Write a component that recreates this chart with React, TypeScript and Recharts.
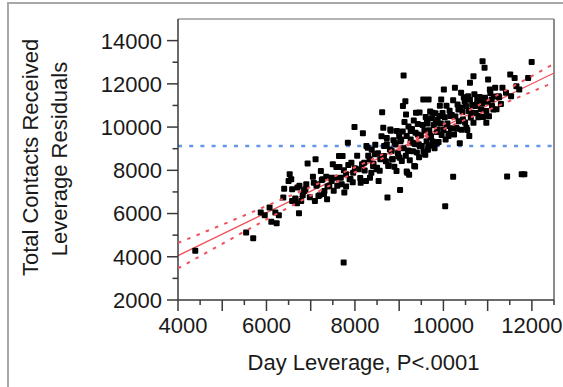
import {
  ReferenceLine,
  Scatter,
  ScatterChart,
  XAxis,
  YAxis,
} from "recharts";

// Leverage plot: Day Leverage (x) vs Total Contacts Received leverage residuals (y)
const observations: [number, number][] = [
  [4390, 4280], [5540, 5120], [5700, 4860], [5870, 6050], [5960, 5920], [6070, 6280],
  [6110, 5615], [6230, 5555], [6200, 6050], [6280, 5920], [6380, 6740], [6400, 7150],
  [6525, 7815], [6560, 7585], [6580, 7120], [6500, 7510], [6580, 6585], [6690, 6480],
  [6735, 6015], [6745, 7280], [6785, 6585], [6850, 7045], [6880, 7120], [6930, 8310],
  [7110, 8510], [7095, 6585], [7070, 7430], [7130, 7280], [7175, 6815], [7230, 7970],
  [7270, 7585], [7310, 7045], [7370, 6660], [7420, 7280], [7475, 7510], [7500, 8280],
  [7555, 7660], [7600, 7280], [7640, 8660], [7720, 8660], [7745, 3740], [7760, 6970],
  [7800, 7815], [7840, 9280], [7880, 7585], [7960, 7890], [7990, 10000], [8085, 8045],
  [8130, 7430], [8180, 9710], [8210, 8350], [8250, 7510], [8290, 9045], [8330, 8510],
  [8370, 7890], [8410, 8200], [8450, 8740], [8490, 8045], [8535, 7510], [8575, 8510],
  [8615, 10690], [8640, 9970], [8655, 8660], [8720, 9200], [8735, 6740], [8755, 8200],
  [8800, 9890], [8830, 8890], [8855, 8510], [8900, 9280], [8940, 7970], [8980, 8660],
  [9020, 7090], [9045, 9430], [9085, 10970], [9100, 12385], [9140, 11200], [9155, 10585],
  [9180, 7890], [9220, 8890], [9260, 9815], [9300, 9280], [9340, 8200], [9380, 10660],
  [9420, 9660], [9465, 9120], [9545, 11275], [9585, 8740], [9625, 10355], [9665, 11275],
  [9710, 9585], [9750, 10660], [9790, 9280], [9830, 10200], [9870, 9890], [9910, 10510],
  [9950, 11275], [10010, 11740], [10040, 6340], [10075, 10045], [10115, 9585], [10155, 10510],
  [10220, 7700], [10260, 11815], [10290, 9970], [10340, 10815], [10370, 9250], [10400, 11585],
  [10440, 10355], [10480, 11200], [10520, 9970], [10560, 11430], [10585, 9585], [10600, 12045],
  [10640, 10660], [10680, 12355], [10720, 10970], [10765, 11275], [10805, 10510], [10845, 11120],
  [10885, 13045], [10930, 12740], [10970, 10200], [11010, 12200], [11050, 11740], [11090, 11275],
  [11130, 10815], [11170, 11815], [11250, 11430], [11335, 11815], [11415, 11585], [11440, 7710],
  [11510, 12430], [11530, 11430], [11610, 12275], [11650, 11890], [11715, 11740], [11770, 7815],
  [11830, 7815], [11915, 12275], [11995, 13015], [9170, 7950], [9225, 7800], [9360, 8180],
  [9590, 8720], [9450, 8600], [9650, 8950], [9850, 9250], [9720, 9150],
  [8050, 8670], [8120, 7640], [8160, 8280], [8220, 7990], [8260, 9130], [8300, 8670],
  [8340, 7660], [8380, 8950], [8420, 8290], [8460, 9180], [8500, 8120], [8520, 8790],
  [8560, 7980], [8600, 9570], [8620, 8590], [8660, 9130], [8700, 8420], [8720, 9490],
  [8760, 8230], [8790, 8960], [8810, 9830], [8840, 8510], [8870, 9390], [8890, 8160],
  [8920, 9190], [8950, 9820], [8970, 8790], [9000, 9570], [9010, 8580], [9030, 9350],
  [9060, 8430], [9080, 9800], [9100, 9020], [9120, 10240], [9150, 8670], [9170, 9590],
  [9200, 8920], [9210, 10030], [9240, 8460], [9260, 9430], [9290, 9910], [9310, 8880],
  [9330, 10300], [9350, 9220], [9370, 9740], [9400, 8820], [9420, 10140], [9440, 9210],
  [9460, 10680], [9490, 9610], [9510, 9130], [9530, 10100], [9550, 8870], [9570, 9840],
  [9600, 10470], [9620, 9340], [9640, 10160], [9660, 9130], [9680, 9850], [9700, 10720],
  [9720, 9540], [9740, 10410], [9760, 9330], [9780, 10100], [9800, 9020], [9820, 10640],
  [9850, 9770], [9870, 10340], [9890, 9310], [9920, 10990], [9940, 10160], [9960, 9630],
  [9980, 10650], [10000, 9870], [10030, 10450], [10050, 9420], [10070, 10990], [10090, 10160],
  [10120, 9690], [10140, 10760], [10170, 9940], [10190, 10560], [10220, 11240], [10240, 9660],
  [10270, 10490], [10300, 9920], [10320, 11040], [10350, 10270], [10380, 10900], [10410, 9880],
  [10430, 10700], [10460, 11380], [10490, 10210], [10510, 10980], [10540, 9860], [10570, 10740],
  [10600, 11270], [10620, 10440], [10650, 11020], [10680, 10200], [10700, 11520], [10730, 10650],
  [10760, 11080], [10790, 10460], [10820, 11390], [10850, 10820], [10880, 11100], [10900, 10470],
  [10940, 11360], [10970, 10740], [11000, 11170], [11030, 10500], [11060, 11580], [11100, 10970],
  [11140, 11410], [11200, 10820], [11260, 11380], [11300, 11070],
  [7650, 8150], [7700, 7350], [7750, 8000], [7800, 7250], [7850, 8250], [7900, 7600],
  [7920, 8350], [7950, 7450], [8000, 8100], [7680, 7650], [7580, 8150], [7520, 7050],
  [7450, 7650], [7380, 7250], [7350, 7700], [7300, 6900], [7250, 7550], [7200, 6850],
  [7150, 7350], [7050, 7700], [6980, 6750], [6900, 7350], [6820, 6850], [6700, 7200],
  [6650, 6700],
];

// fitted line and its confidence curves
const fitX = [4000, 12500];
const fitY = [4050, 12500];
const bandX = [4000, 5000, 6000, 7000, 8000, 9100, 10000, 11000, 12000, 12500];
const bandUpper = [4640, 5480, 6350, 7230, 8140, 9190, 10125, 11240, 12360, 12930];
const bandLower = [3460, 4600, 5730, 6830, 7910, 9050, 9905, 10780, 11640, 12070];
const meanY = 9130;

const xTicks = [4000, 4500, 5000, 5500, 6000, 6500, 7000, 7500, 8000, 8500, 9000, 9500, 10000, 10500, 11000, 11500, 12000, 12500];
const yTicks = [2000, 3000, 4000, 5000, 6000, 7000, 8000, 9000, 10000, 11000, 12000, 13000, 14000, 15000];

const FONT = "Arial, 'Liberation Sans', sans-serif";
const TEXT = "#1a1a1a";
const AXIS = "#3a3a3a";
const RED = "#f0505a";
const BLUE = "#6495ed";

const points = observations.map(([x, y]) => ({ x, y }));
const upper = bandX.map((x, i) => ({ x, y: bandUpper[i] }));
const lower = bandX.map((x, i) => ({ x, y: bandLower[i] }));

function XTick(props: any) {
  const { x, y, payload } = props;
  const v = payload.value as number;
  const long = v % 1000 === 0;
  const labeled = v % 2000 === 0;
  return (
    <g>
      <line x1={x} x2={x} y1={y} y2={y + (long ? 11 : 5)} stroke={AXIS} strokeWidth={1.5} />
      {labeled && (
        <text x={x + (v === 4000 ? 5 : 0)} y={y + 32.5} textAnchor="middle" fontSize={22} fill={TEXT} fontFamily={FONT}>
          {v}
        </text>
      )}
    </g>
  );
}

function YTick(props: any) {
  const { x, y, payload } = props;
  const v = payload.value as number;
  const labeled = v % 2000 === 0;
  if (v === 15000) return <g />;
  return (
    <g>
      <line x1={x} x2={x - (labeled ? 11 : 5.5)} y1={y} y2={y} stroke={AXIS} strokeWidth={1.5} />
      {labeled && (
        <text x={x - 16} y={y} dy="0.36em" textAnchor="end" fontSize={22} fill={TEXT} fontFamily={FONT}>
          {v}
        </text>
      )}
    </g>
  );
}

function Dot(props: any) {
  const { cx, cy } = props;
  if (cx == null || cy == null) return <g />;
  return <rect x={cx - 3} y={cy - 3} width={6} height={6} rx={1} fill="#000" />;
}

const noShape = () => <g />;

export default function App() {
  return (
    <div style={{ position: "absolute", left: 0, top: 0, width: 563, height: 387, background: "#fff", overflow: "hidden" }}>
      <div
        style={{
          position: "absolute",
          left: 7,
          top: 2,
          width: 600,
          height: 400,
          borderLeft: "2px solid #a8a8a8",
          borderTop: "2px solid #a8a8a8",
        }}
      />
      <div style={{ position: "absolute", left: 0, top: 0 }}>
        <ScatterChart width={563} height={387} margin={{ top: 19, right: 9, bottom: 0, left: 0 }}>
          <XAxis
            type="number"
            dataKey="x"
            domain={[4000, 12500]}
            ticks={xTicks}
            interval={0}
            allowDataOverflow
            height={87}
            tickSize={0}
            tickMargin={0}
            tickLine={false}
            tick={<XTick />}
            axisLine={{ stroke: AXIS, strokeWidth: 1.5 }}
          />
          <YAxis
            type="number"
            dataKey="y"
            domain={[2000, 15000]}
            ticks={yTicks}
            interval={0}
            allowDataOverflow
            width={178}
            tickSize={0}
            tickMargin={0}
            tickLine={false}
            tick={<YTick />}
            axisLine={{ stroke: AXIS, strokeWidth: 1.5 }}
          />
          <ReferenceLine y={15000} stroke="#9a9a9a" strokeWidth={1.5} />
          <ReferenceLine x={12500} stroke="#8a8a8a" strokeWidth={2} />
          <ReferenceLine y={meanY} stroke={BLUE} strokeWidth={2.5} strokeDasharray="4 7.2" />
          <Scatter data={points} shape={<Dot />} isAnimationActive={false} />
          <ReferenceLine
            segment={[
              { x: fitX[0], y: fitY[0] },
              { x: fitX[1], y: fitY[1] },
            ]}
            stroke={RED}
            strokeWidth={1.3}
          />
          <Scatter
            data={upper}
            fill={RED}
            shape={noShape}
            line={{ stroke: RED, strokeWidth: 2, strokeDasharray: "3.5 6.5" }}
            lineType="joint"
            isAnimationActive={false}
          />
          <Scatter
            data={lower}
            fill={RED}
            shape={noShape}
            line={{ stroke: RED, strokeWidth: 2, strokeDasharray: "3.5 6.5" }}
            lineType="joint"
            isAnimationActive={false}
          />
        </ScatterChart>
      </div>
      <svg width={563} height={387} style={{ position: "absolute", left: 0, top: 0, pointerEvents: "none" }}>
        <text x={37.5} y={157.5} transform="rotate(-90 37.5 157.5)" textAnchor="middle" fontSize={22} fill={TEXT} fontFamily={FONT}>
          Total Contacts Received
        </text>
        <text x={67} y={159} transform="rotate(-90 67 159)" textAnchor="middle" fontSize={22} fill={TEXT} fontFamily={FONT}>
          Leverage Residuals
        </text>
        <text x={363.5} y={370} textAnchor="middle" fontSize={22} fill={TEXT} fontFamily={FONT}>
          Day Leverage, P&lt;.0001
        </text>
      </svg>
    </div>
  );
}
